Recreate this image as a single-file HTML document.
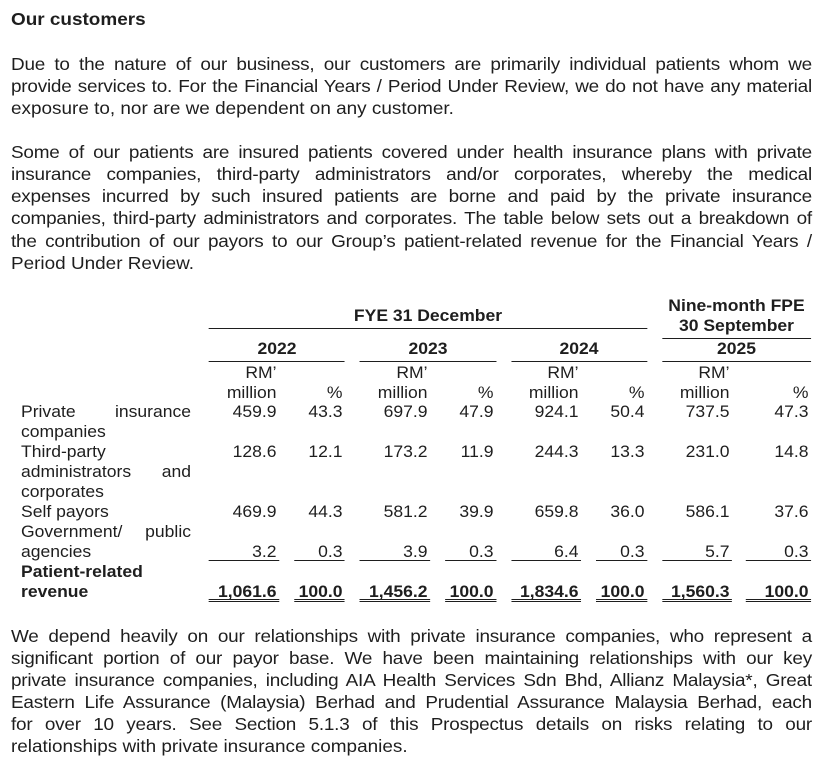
<!DOCTYPE html>
<html>
<head>
<meta charset="utf-8">
<style>
html,body{margin:0;padding:0;background:#fff;}
body{width:834px;height:765px;overflow:hidden;position:relative;}
#w{position:absolute;left:0;top:0;width:779.44px;height:765px;transform:scaleX(1.07);transform-origin:0 0;color:#1e1e1e;font-family:"Liberation Sans",Arial,sans-serif;}
.h{position:absolute;left:10.28px;top:7.8px;font-size:17.7px;line-height:22.1px;font-weight:bold;white-space:nowrap;}
.p{position:absolute;left:10.28px;width:748.6px;font-size:17.7px;line-height:22.1px;}
.p div{text-align:justify;text-align-last:justify;letter-spacing:-0.2px;height:22.1px;}
.p div.e{text-align:left;text-align-last:left;letter-spacing:0;}
.t{position:absolute;left:0;width:779.44px;height:20px;line-height:20px;font-size:16.4px;}
.t span{position:absolute;top:0;text-align:right;padding-right:2.3px;box-sizing:border-box;white-space:nowrap;}
.t span.cc{text-align:center;padding-right:0;}
.b{font-weight:bold;}
.c1{left:195.33px;width:65.42px;}
.c2{left:274.77px;width:47.66px;}
.c3{left:336.45px;width:65.42px;}
.c4{left:415.89px;width:47.66px;}
.c5{left:477.57px;width:65.42px;}
.c6{left:557.01px;width:47.66px;}
.c7{left:618.69px;width:65.42px;}
.c8{left:697.20px;width:60.75px;}
.y1{left:195.33px;width:127.10px;}
.y2{left:336.45px;width:127.10px;}
.y3{left:477.57px;width:127.10px;}
.y4{left:618.69px;width:139.25px;}
.fy{left:195.33px;width:409.35px;}
.t span.lb{left:19.63px;width:158.88px;text-align:justify;text-align-last:justify;padding-right:0;}
.t span.ll{left:19.63px;width:158.88px;text-align:left;padding-right:0;}
.ln{position:absolute;height:1px;background:#1e1e1e;}
.dl{position:absolute;height:1px;border-top:1px solid #1e1e1e;border-bottom:1px solid #1e1e1e;}
</style>
</head>
<body>
<div id="w">
<div class="h">Our customers</div>

<div class="p" style="top:52.6px;">
<div>Due to the nature of our business, our customers are primarily individual patients whom we</div>
<div>provide services to. For the Financial Years / Period Under Review, we do not have any material</div>
<div class="e">exposure to, nor are we dependent on any customer.</div>
</div>

<div class="p" style="top:141.2px;">
<div>Some of our patients are insured patients covered under health insurance plans with private</div>
<div>insurance companies, third-party administrators and/or corporates, whereby the medical</div>
<div>expenses incurred by such insured patients are borne and paid by the private insurance</div>
<div>companies, third-party administrators and corporates. The table below sets out a breakdown of</div>
<div>the contribution of our payors to our Group’s patient-related revenue for the Financial Years /</div>
<div class="e">Period Under Review.</div>
</div>

<!-- table headers -->
<div class="t b" style="top:296.0px;"><span class="cc y4">Nine-month FPE</span></div>
<div class="t b" style="top:306.0px;"><span class="cc fy">FYE 31 December</span></div>
<div class="t b" style="top:315.8px;"><span class="cc y4">30 September</span></div>
<div class="ln" style="top:328px;left:195.33px;width:409.35px;"></div>
<div class="ln" style="top:338px;left:618.69px;width:139.25px;"></div>

<div class="t b" style="top:339.3px;"><span class="cc y1">2022</span><span class="cc y2">2023</span><span class="cc y3">2024</span><span class="cc y4">2025</span></div>
<div class="ln" style="top:361px;left:195.33px;width:127.10px;"></div>
<div class="ln" style="top:361px;left:336.45px;width:127.10px;"></div>
<div class="ln" style="top:361px;left:477.57px;width:127.10px;"></div>
<div class="ln" style="top:361px;left:618.69px;width:139.25px;"></div>

<div class="t" style="top:362.6px;"><span class="c1">RM’</span><span class="c3">RM’</span><span class="c5">RM’</span><span class="c7">RM’</span></div>
<div class="t" style="top:382.6px;"><span class="c1">million</span><span class="c2">%</span><span class="c3">million</span><span class="c4">%</span><span class="c5">million</span><span class="c6">%</span><span class="c7">million</span><span class="c8">%</span></div>

<!-- rows -->
<div class="t" style="top:402.3px;"><span class="lb">Private insurance</span><span class="c1">459.9</span><span class="c2">43.3</span><span class="c3">697.9</span><span class="c4">47.9</span><span class="c5">924.1</span><span class="c6">50.4</span><span class="c7">737.5</span><span class="c8">47.3</span></div>
<div class="t" style="top:422.1px;"><span class="ll">companies</span></div>
<div class="t" style="top:442.3px;"><span class="ll">Third-party</span><span class="c1">128.6</span><span class="c2">12.1</span><span class="c3">173.2</span><span class="c4">11.9</span><span class="c5">244.3</span><span class="c6">13.3</span><span class="c7">231.0</span><span class="c8">14.8</span></div>
<div class="t" style="top:462.3px;"><span class="lb">administrators and</span></div>
<div class="t" style="top:482.3px;"><span class="ll">corporates</span></div>
<div class="t" style="top:502.3px;"><span class="ll">Self payors</span><span class="c1">469.9</span><span class="c2">44.3</span><span class="c3">581.2</span><span class="c4">39.9</span><span class="c5">659.8</span><span class="c6">36.0</span><span class="c7">586.1</span><span class="c8">37.6</span></div>
<div class="t" style="top:522.3px;"><span class="lb">Government/ public</span></div>
<div class="t" style="top:542.3px;"><span class="ll">agencies</span><span class="c1">3.2</span><span class="c2">0.3</span><span class="c3">3.9</span><span class="c4">0.3</span><span class="c5">6.4</span><span class="c6">0.3</span><span class="c7">5.7</span><span class="c8">0.3</span></div>

<div class="ln" style="top:560px;left:195.33px;width:65.42px;"></div>
<div class="ln" style="top:560px;left:274.77px;width:47.66px;"></div>
<div class="ln" style="top:560px;left:336.45px;width:65.42px;"></div>
<div class="ln" style="top:560px;left:415.89px;width:47.66px;"></div>
<div class="ln" style="top:560px;left:477.57px;width:65.42px;"></div>
<div class="ln" style="top:560px;left:557.01px;width:47.66px;"></div>
<div class="ln" style="top:560px;left:618.69px;width:65.42px;"></div>
<div class="ln" style="top:560px;left:697.20px;width:60.75px;"></div>

<div class="t b" style="top:562.3px;"><span class="ll">Patient-related</span></div>
<div class="t b" style="top:581.9px;"><span class="ll">revenue</span><span class="c1">1,061.6</span><span class="c2">100.0</span><span class="c3">1,456.2</span><span class="c4">100.0</span><span class="c5">1,834.6</span><span class="c6">100.0</span><span class="c7">1,560.3</span><span class="c8">100.0</span></div>

<div class="dl" style="top:599px;left:195.33px;width:65.42px;"></div>
<div class="dl" style="top:599px;left:274.77px;width:47.66px;"></div>
<div class="dl" style="top:599px;left:336.45px;width:65.42px;"></div>
<div class="dl" style="top:599px;left:415.89px;width:47.66px;"></div>
<div class="dl" style="top:599px;left:477.57px;width:65.42px;"></div>
<div class="dl" style="top:599px;left:557.01px;width:47.66px;"></div>
<div class="dl" style="top:599px;left:618.69px;width:65.42px;"></div>
<div class="dl" style="top:599px;left:697.20px;width:60.75px;"></div>

<div class="p" style="top:624.5px;">
<div>We depend heavily on our relationships with private insurance companies, who represent a</div>
<div>significant portion of our payor base. We have been maintaining relationships with our key</div>
<div>private insurance companies, including AIA Health Services Sdn Bhd, Allianz Malaysia*, Great</div>
<div>Eastern Life Assurance (Malaysia) Berhad and Prudential Assurance Malaysia Berhad, each</div>
<div>for over 10 years. See Section 5.1.3 of this Prospectus details on risks relating to our</div>
<div class="e">relationships with private insurance companies.</div>
</div>
</div>
</body>
</html>
